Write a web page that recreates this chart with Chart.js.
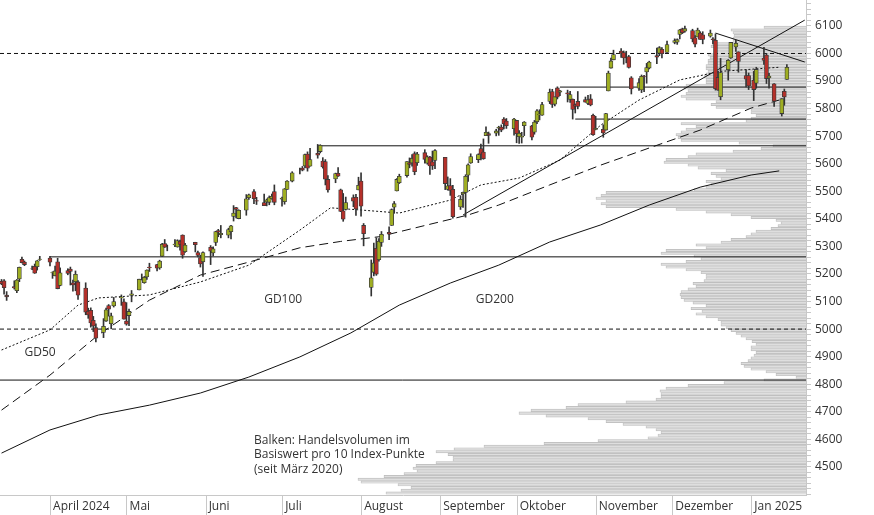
<!DOCTYPE html>
<html><head><meta charset="utf-8">
<script src="https://cdn.jsdelivr.net/npm/chart.js@4"></script>
<style>
html,body{margin:0;padding:0;background:#fff;}
#wrap{position:relative;width:874px;height:515px;}
#wrap canvas{position:absolute;left:0;top:0;}
</style></head><body>
<div id="wrap"><canvas id="vol" width="874" height="515"></canvas><canvas id="px" width="874" height="515"></canvas></div>
<script>
// ---- data ----
const candles = [ // date, open, high, low, close
['2024-03-13',5173,5180,5161,5165],['2024-03-14',5175,5180,5127,5150],['2024-03-15',5123,5136,5104,5117],
['2024-03-18',5154,5175,5145,5149],['2024-03-19',5139,5180,5132,5178],['2024-03-20',5182,5225,5172,5224],
['2024-03-21',5253,5261,5240,5241],['2024-03-22',5243,5247,5230,5234],['2024-03-25',5219,5229,5216,5218],
['2024-03-26',5228,5236,5202,5203],['2024-03-27',5226,5249,5214,5248],['2024-03-28',5253,5264,5249,5254],
['2024-04-01',5258,5264,5229,5243],['2024-04-02',5204,5208,5184,5205],['2024-04-03',5194,5229,5193,5211],
['2024-04-04',5244,5257,5146,5147],['2024-04-05',5158,5222,5157,5204],['2024-04-08',5212,5219,5197,5202],
['2024-04-09',5218,5225,5160,5209],['2024-04-10',5168,5178,5138,5160],['2024-04-11',5172,5211,5139,5199],
['2024-04-12',5171,5176,5108,5123],['2024-04-15',5149,5168,5052,5061],['2024-04-16',5065,5076,5039,5051],
['2024-04-17',5068,5077,5007,5022],['2024-04-18',5032,5046,4991,5011],['2024-04-19',5005,5019,4953,4967],
['2024-04-22',4988,5038,4969,5010],['2024-04-23',5029,5076,5028,5070],['2024-04-24',5085,5089,5047,5072],
['2024-04-25',5019,5058,5001,5048],['2024-04-26',5084,5115,5080,5100],['2024-04-29',5114,5124,5086,5116],
['2024-04-30',5099,5110,5036,5036],['2024-05-01',5029,5096,5014,5018],['2024-05-02',5049,5073,5012,5064],
['2024-05-03',5122,5140,5099,5128],['2024-05-06',5142,5181,5142,5181],['2024-05-07',5187,5200,5178,5187],
['2024-05-08',5168,5191,5166,5188],['2024-05-09',5189,5215,5180,5214],['2024-05-10',5225,5239,5209,5223],
['2024-05-13',5234,5235,5211,5221],['2024-05-14',5222,5250,5217,5247],['2024-05-15',5264,5311,5263,5308],
['2024-05-16',5310,5325,5296,5297],['2024-05-17',5303,5305,5284,5303],['2024-05-20',5305,5325,5299,5308],
['2024-05-21',5298,5324,5297,5321],['2024-05-22',5319,5323,5286,5307],['2024-05-23',5341,5342,5257,5268],
['2024-05-24',5281,5311,5278,5305],['2024-05-28',5315,5315,5280,5306],['2024-05-29',5278,5283,5262,5267],
['2024-05-30',5259,5268,5225,5236],['2024-05-31',5244,5280,5191,5278],['2024-06-03',5297,5303,5234,5283],
['2024-06-04',5276,5298,5265,5291],['2024-06-05',5314,5355,5303,5354],['2024-06-06',5357,5362,5335,5352],
['2024-06-07',5343,5376,5331,5347],['2024-06-10',5341,5366,5331,5361],['2024-06-11',5353,5376,5327,5375],
['2024-06-12',5409,5448,5392,5421],['2024-06-13',5441,5442,5403,5434],['2024-06-14',5401,5433,5400,5431],
['2024-06-17',5431,5488,5413,5473],['2024-06-18',5477,5490,5470,5487],['2024-06-20',5499,5506,5455,5473],
['2024-06-21',5466,5478,5452,5464],['2024-06-24',5459,5490,5448,5448],['2024-06-25',5461,5472,5447,5469],
['2024-06-26',5460,5483,5451,5477],['2024-06-27',5473,5490,5471,5482],['2024-06-28',5499,5523,5451,5460],
['2024-07-01',5471,5479,5446,5475],['2024-07-02',5462,5510,5453,5509],['2024-07-03',5507,5539,5507,5537],
['2024-07-05',5537,5571,5534,5567],['2024-07-08',5572,5584,5563,5572],['2024-07-09',5584,5590,5574,5577],
['2024-07-10',5592,5635,5586,5633],['2024-07-11',5635,5643,5573,5584],['2024-07-12',5591,5656,5591,5615],
['2024-07-15',5638,5670,5620,5631],['2024-07-16',5644,5669,5639,5667],['2024-07-17',5610,5622,5584,5588],
['2024-07-18',5608,5615,5523,5544],['2024-07-19',5543,5557,5497,5505],['2024-07-22',5545,5566,5531,5564],
['2024-07-23',5565,5586,5554,5555],['2024-07-24',5505,5508,5426,5427],['2024-07-25',5429,5492,5391,5399],
['2024-07-26',5434,5479,5432,5459],['2024-07-29',5477,5487,5444,5464],['2024-07-30',5478,5489,5412,5436],
['2024-07-31',5505,5551,5505,5522],['2024-08-01',5537,5567,5410,5446],['2024-08-02',5376,5383,5302,5346],
['2024-08-05',5151,5251,5120,5186],['2024-08-06',5206,5312,5193,5240],['2024-08-07',5293,5331,5195,5199],
['2024-08-08',5252,5328,5246,5319],['2024-08-09',5314,5354,5300,5344],['2024-08-12',5351,5371,5324,5344],
['2024-08-13',5376,5436,5376,5434],['2024-08-14',5442,5463,5420,5455],['2024-08-15',5501,5546,5501,5543],
['2024-08-16',5531,5562,5528,5554],['2024-08-19',5557,5608,5551,5608],['2024-08-20',5603,5621,5585,5597],
['2024-08-21',5603,5633,5591,5620],['2024-08-22',5637,5643,5560,5571],['2024-08-23',5604,5641,5594,5635],
['2024-08-26',5640,5651,5602,5616],['2024-08-27',5602,5629,5598,5625],['2024-08-28',5624,5627,5561,5592],
['2024-08-29',5607,5646,5579,5592],['2024-08-30',5612,5651,5582,5648],['2024-09-03',5623,5623,5506,5528],
['2024-09-04',5507,5552,5504,5520],['2024-09-05',5521,5546,5485,5503],['2024-09-06',5507,5522,5402,5408],
['2024-09-09',5443,5484,5434,5471],['2024-09-10',5491,5497,5441,5496],['2024-09-11',5496,5560,5406,5554],
['2024-09-12',5558,5600,5536,5596],['2024-09-13',5603,5636,5601,5626],['2024-09-16',5615,5636,5604,5633],
['2024-09-17',5655,5671,5614,5634],['2024-09-18',5642,5690,5616,5618],['2024-09-19',5702,5734,5702,5714],
['2024-09-20',5709,5715,5674,5703],['2024-09-23',5711,5725,5701,5719],['2024-09-24',5729,5736,5703,5732],
['2024-09-25',5733,5741,5716,5722],['2024-09-26',5762,5767,5726,5745],['2024-09-27',5755,5764,5728,5738],
['2024-09-30',5727,5765,5704,5762],['2024-10-01',5757,5757,5676,5709],['2024-10-02',5698,5720,5674,5710],
['2024-10-03',5696,5714,5675,5699],['2024-10-04',5738,5753,5702,5751],['2024-10-07',5737,5739,5686,5696],
['2024-10-08',5714,5757,5707,5751],['2024-10-09',5752,5796,5745,5792],['2024-10-10',5778,5796,5759,5780],
['2024-10-11',5776,5823,5775,5815],['2024-10-14',5826,5871,5818,5859],['2024-10-15',5862,5870,5804,5815],
['2024-10-16',5816,5843,5810,5843],['2024-10-17',5875,5879,5835,5841],['2024-10-18',5860,5866,5847,5864],
['2024-10-21',5857,5867,5824,5853],['2024-10-22',5833,5863,5822,5851],['2024-10-23',5834,5835,5762,5797],
['2024-10-24',5815,5817,5784,5809],['2024-10-25',5826,5862,5799,5808],['2024-10-28',5833,5842,5823,5823],
['2024-10-29',5819,5848,5814,5832],['2024-10-30',5835,5851,5810,5813],['2024-10-31',5776,5780,5703,5705],
['2024-11-01',5724,5772,5723,5728],['2024-11-04',5725,5741,5696,5712],['2024-11-05',5722,5783,5722,5782],
['2024-11-06',5864,5936,5864,5929],['2024-11-07',5947,5983,5947,5973],['2024-11-08',5977,6012,5977,5996],
['2024-11-11',6009,6018,5986,6001],['2024-11-12',6003,6009,5961,5984],['2024-11-13',5985,6008,5966,5985],
['2024-11-14',5989,5993,5947,5949],['2024-11-15',5912,5916,5853,5871],['2024-11-18',5874,5909,5866,5894],
['2024-11-19',5868,5922,5858,5917],['2024-11-20',5918,5921,5861,5917],['2024-11-21',5933,5964,5892,5949],
['2024-11-22',5947,5972,5944,5969],['2024-11-25',5992,6020,5963,5987],['2024-11-26',6001,6025,5992,6021],
['2024-11-27',6015,6021,5984,5999],['2024-11-29',6004,6045,6004,6032],['2024-12-02',6040,6053,6035,6047],
['2024-12-03',6041,6053,6033,6050],['2024-12-04',6069,6087,6053,6086],['2024-12-05',6089,6092,6072,6075],
['2024-12-06',6081,6099,6077,6090],['2024-12-09',6083,6088,6042,6053],['2024-12-10',6057,6065,6024,6034],
['2024-12-11',6060,6092,6060,6085],['2024-12-12',6074,6079,6051,6051],['2024-12-13',6068,6079,6035,6051],
['2024-12-16',6063,6085,6059,6074],['2024-12-17',6053,6058,6035,6050],['2024-12-18',6048,6071,5867,5872],
['2024-12-19',5913,5936,5866,5867],['2024-12-20',5843,5982,5832,5931],['2024-12-23',5941,5978,5903,5975],
['2024-12-24',5984,6040,5982,6040],['2024-12-26',6024,6049,6007,6037],['2024-12-27',6006,6006,5932,5971],
['2024-12-30',5920,5941,5879,5907],['2024-12-31',5920,5929,5869,5882],['2025-01-02',5903,5935,5829,5869],
['2025-01-03',5892,5950,5874,5942],['2025-01-06',5983,6022,5960,5975],['2025-01-07',5994,6000,5891,5909],
['2025-01-08',5911,5928,5874,5918],['2025-01-10',5890,5891,5808,5827],['2025-01-13',5782,5836,5773,5836],
['2025-01-14',5863,5871,5812,5842],['2025-01-15',5906,5960,5906,5950]
];
const gd50 = [['2024-03-13',4924],['2024-04-01',4997],['2024-04-12',5087],['2024-04-20',5113],['2024-05-10',5124],['2024-05-30',5171],['2024-06-18',5232],['2024-07-08',5359],['2024-07-20',5440],['2024-08-01',5432],['2024-08-16',5421],['2024-09-05',5468],['2024-09-17',5523],['2024-10-02',5548],['2024-10-18',5613],['2024-11-03',5740],['2024-11-18',5831],['2024-12-04',5904],['2024-12-20',5935],['2025-01-12',5950]];
const gd100 = [['2024-03-13',4706],['2024-04-01',4833],['2024-04-20',4979],['2024-05-10',5105],['2024-05-30',5196],['2024-06-18',5243],['2024-07-08',5295],['2024-07-24',5318],['2024-08-08',5335],['2024-08-27',5378],['2024-09-12',5414],['2024-09-24',5450],['2024-10-14',5523],['2024-11-03',5595],['2024-11-22',5657],['2024-12-12',5722],['2025-01-01',5802],['2025-01-12',5831]];
const gd200 = [['2024-03-13',4550],['2024-04-01',4634],['2024-04-20',4688],['2024-05-10',4724],['2024-05-30',4768],['2024-06-18',4826],['2024-07-08',4899],['2024-07-28',4986],['2024-08-16',5087],['2024-09-05',5167],['2024-09-24',5232],['2024-10-14',5316],['2024-11-03',5378],['2024-11-22',5450],['2024-12-12',5515],['2025-01-01',5559],['2025-01-12',5574]];
const trendUp = [['2024-09-10',5414],['2025-01-22',6121]];
const trendDown = [['2024-12-18',6074],['2025-01-22',5969]];
const levelsSolid = [[4815,'2024-03-12'],[5262,'2024-04-01'],[5665,'2024-07-16'],[5762,'2024-10-24'],[5878,'2024-10-18']];
const levelsDashed = [6000,5000];
const monthTicks = ['2024-04-01','2024-05-01','2024-06-01','2024-07-01','2024-08-01','2024-09-01','2024-10-01','2024-11-01','2024-12-01','2025-01-01'];
const monthLabels = ['April 2024','Mai','Juni','Juli','August','September','Oktober','November','Dezember','Jan 2025'];
const volBins = 4400; // first bin lower edge, bins of 10 index points
const volume = [
420,405,395,408,445,448,422,402,389,393,
390,370,353,353,358,370,352,322,262,208,
158,148,145,150,160,183,200,218,260,287,
275,240,228,180,150,145,145,146,140,118,
82,42,10,30,40,55,62,65,58,55,
52,50,55,55,50,54,60,65,70,75,
80,85,85,88,100,110,104,115,100,113,
122,125,126,125,118,110,113,102,100,100,
105,120,140,145,120,105,112,145,140,100,
110,85,75,60,55,50,35,28,25,30,
55,75,100,130,200,205,200,210,205,200,
112,100,95,100,85,90,95,80,108,118,
142,140,118,110,73,45,33,67,125,128,
130,125,120,110,125,60,55,50,55,55,
90,95,90,120,125,120,118,122,120,100,
100,102,100,98,100,100,98,98,96,98,
92,92,95,90,73,73,72,73,75,42];
const yMin = 4398, yMax = 6194;
// ---- helpers ----
const base = Date.UTC(2024,3,1);
const day = s => { const [y,m,d] = s.split('-').map(Number); return (Date.UTC(y,m-1,d)-base)/86400000; };
const xMin = day('2024-03-12')+0.4, xMax = day('2025-01-22')+0.5;
const FONT = "'Open Sans', 'DejaVu Sans', sans-serif";
const pts = arr => arr.map(([d,v]) => ({x: day(d), y: v}));
const line = (data, dash, order) => ({type:'line', data, borderColor:'#111', borderWidth:1, borderDash:dash, pointRadius:0, tension:0, order: order||5});

// ---- volume profile chart ----
new Chart(document.getElementById('vol'), {
  type:'bar',
  data:{datasets:[{data: volume.map((v,i)=>({y: volBins + i*10 + 5, x: v})), backgroundColor:'#dedede', borderColor:'#b9b9b9', borderWidth:0.7, barThickness:2.4}]},
  options:{indexAxis:'y', responsive:false, animation:false, events:[],
    layout:{padding:{left:0,right:68,top:0,bottom:20}},
    plugins:{legend:{display:false}, tooltip:{enabled:false}},
    scales:{x:{type:'linear', display:false, reverse:true, min:0, max:806, offset:false},
            y:{type:'linear', display:false, min:yMin, max:yMax, offset:false}}}
});

// ---- price chart ----
const up = c => c[4] >= c[1];
const levelSets = levelsSolid.map(([v,d]) => line([{x:day(d),y:v},{x:xMax,y:v}], []));
const dashSets = levelsDashed.map(v => line([{x:xMin,y:v},{x:xMax,y:v}], [4,3]));
const overlay = {
  id:'overlay',
  beforeDatasetsDraw(chart){
    const {ctx, scales:{x,y}, chartArea:a} = chart;
    ctx.save(); ctx.strokeStyle='#c8c8c8'; ctx.lineWidth=1;
    monthTicks.forEach(d => { const px = Math.round(x.getPixelForValue(day(d)))+0.5; ctx.beginPath(); ctx.moveTo(px,a.bottom); ctx.lineTo(px,a.bottom+20); ctx.stroke(); });
    ctx.restore();
  },
  afterDatasetsDraw(chart){
    const {ctx, scales:{x,y}} = chart;
    ctx.save(); ctx.fillStyle='#333'; ctx.font='12px '+FONT; ctx.textBaseline='alphabetic';
    const t = (s,d,v) => ctx.fillText(s, x.getPixelForValue(d), y.getPixelForValue(v));
    t('GD50', day('2024-03-22'), 4904);
    t('GD100', day('2024-06-24'), 5093);
    t('GD200', day('2024-09-15'), 5093);
    const lines = ['Balken: Handelsvolumen im','Basiswert pro 10 Index-Punkte','(seit März 2020)'];
    lines.forEach((s,i) => ctx.fillText(s, x.getPixelForValue(day('2024-06-20')), y.getPixelForValue(4584) + i*14.5));
    ctx.restore();
  }
};
new Chart(document.getElementById('px'), {
  type:'bar',
  data:{datasets:[
    line(pts(gd50), [2,2]), line(pts(gd100), [9,5]), line(pts(gd200), []),
    line(pts(trendUp), []), line(pts(trendDown), []),
    ...levelSets, ...dashSets,
    {type:'bar', data: candles.map(c=>({x:day(c[0]), y:[c[3],c[2]]})), backgroundColor:'#333', barThickness:1, grouped:false, order:2},
    {type:'bar', data: candles.map(c=>({x:day(c[0]), y:[c[1],c[4]]})), backgroundColor: candles.map(c=> up(c)?'#9fae22':'#b5302a'),
      borderColor:'#3a3a3a', borderWidth:0.8, borderSkipped:false, barThickness:4, grouped:false, order:1}
  ]},
  options:{responsive:false, animation:false, events:[],
    layout:{padding:0},
    plugins:{legend:{display:false}, tooltip:{enabled:false}},
    scales:{
      x:{type:'linear', min:xMin, max:xMax, offset:false,
        afterFit(s){ s.height = 20; s.paddingLeft = 0; s.paddingRight = 0; },
        afterBuildTicks(s){ s.ticks = monthTicks.map(d=>({value:day(d)})); },
        grid:{drawOnChartArea:false, drawTicks:false},
        border:{color:'#c8c8c8'},
        ticks:{align:'start', padding:4, color:'#333', font:{family:FONT,size:12}, autoSkip:false, maxRotation:0,
          callback:(v,i)=>' '+monthLabels[i]}},
      y:{type:'linear', position:'right', min:yMin, max:yMax,
        afterFit(s){ s.width = 68; s.paddingTop = 0; s.paddingBottom = 0; },
        afterBuildTicks(s){ const t=[]; for(let v=4400; v<=6180; v+=20) t.push({value:v}); s.ticks=t; },
        grid:{drawOnChartArea:false, tickLength:5, color:'#c8c8c8'},
        border:{color:'#c8c8c8'},
        ticks:{padding:4, color:'#333', font:{family:FONT,size:12}, autoSkip:false,
          callback:v => (v%100===0 && v>=4500 && v<=6100) ? String(v) : ''}}
    }},
  plugins:[overlay]
});
</script></body></html>
